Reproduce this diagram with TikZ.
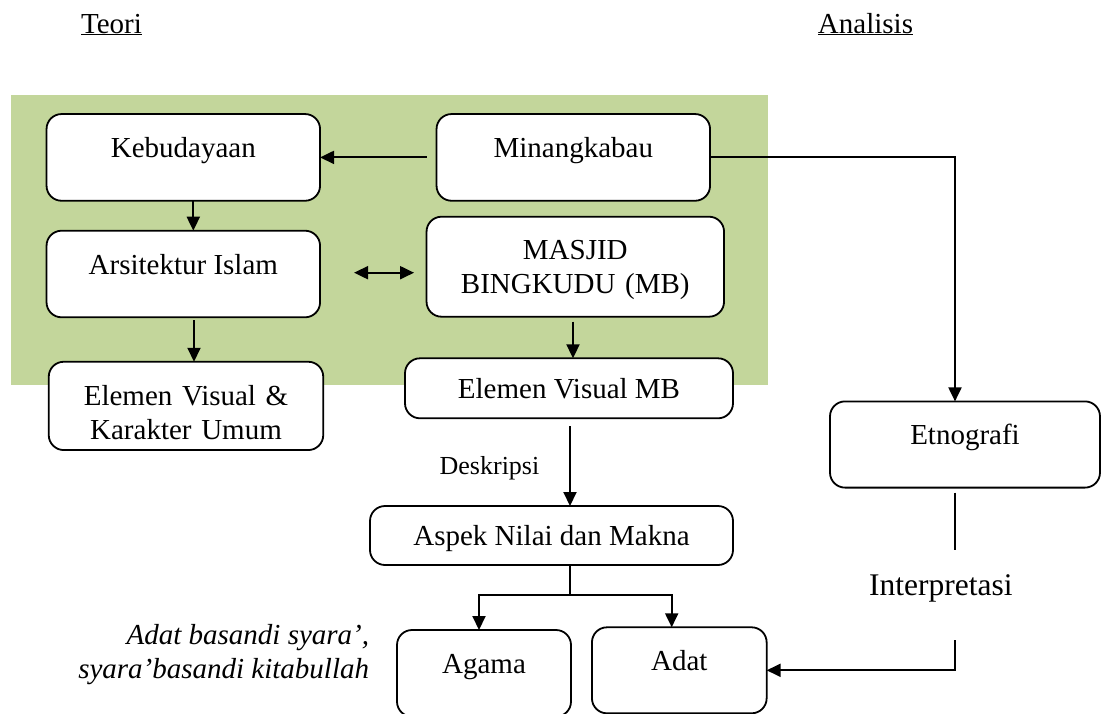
\documentclass[tikz,border=0pt]{standalone}
\usepackage{fontspec}
\setmainfont{Liberation Serif}
\usetikzlibrary{arrows.meta}
\definecolor{bggreen}{HTML}{C3D69B}

\begin{document}
\begin{tikzpicture}[x=1pt,y=-1pt,font=\fontsize{29}{34}\selectfont,
  box/.style={draw,line width=1.8pt,rounded corners=15pt,inner sep=0pt,outer sep=0pt,fill=white},
  midline/.style={text height=0pt,text depth=0pt},
  capmid/.style={text height=20pt,text depth=0pt},
  link/.style={line width=2pt},
  arr/.style={line width=2pt,-{Triangle[length=14pt,width=13pt]}},
  dblarr/.style={line width=2pt,{Triangle[length=14pt,width=13pt]}-{Triangle[length=14pt,width=13pt]}}]
\useasboundingbox (0,0) rectangle (1101,713);
\clip (0,0) rectangle (1101,713);
\fill[bggreen] (11,95) rectangle (768,385);

\node[anchor=base] (teori) at (111.5,33) {\underline{Teori}};
\node[anchor=base] (analisis) at (865.5,33) {\underline{Analisis}};

\node[box,midline,minimum width=273.5pt,minimum height=86.7pt] (budaya) at (183.3,157.4) {Kebudayaan};
\node[box,midline,minimum width=273.5pt,minimum height=86.7pt] (minang) at (573.3,157.4) {Minangkabau};
\node[box,midline,minimum width=273.5pt,minimum height=86.6pt] (islam) at (183.3,274) {Arsitektur Islam};
\node[box,text width=270pt,align=center,text height=0pt,text depth=14.8pt,minimum width=297.5pt,minimum height=100pt] (masjid) at (575.3,266.7) {MASJID\\BINGKUDU (MB)};
\node[box,text width=260pt,align=center,text height=0pt,text depth=1.8pt,minimum width=274.5pt,minimum height=88.3pt] (elemen) at (186,405.9) {Elemen Visual \&\\Karakter Umum};
\node[box,capmid,minimum width=328pt,minimum height=60pt] (elemenmb) at (569,388.3) {Elemen Visual MB};
\node[box,capmid,minimum width=363pt,minimum height=59pt] (aspek) at (551.5,535.5) {Aspek Nilai dan Makna};
\node[box,midline,minimum width=270pt,minimum height=86.2pt] (etno) at (965,444.5) {Etnografi};
\node[box,midline,minimum width=174pt,minimum height=86.6pt] (agama) at (484,673.3) {Agama};
\node[box,midline,minimum width=174.7pt,minimum height=86pt] (adat) at (679.3,670.3) {Adat};

\node[anchor=base,font=\fontsize{26}{30}\selectfont] (deskripsi) at (489.5,474) {Deskripsi};
\node[font=\fontsize{31.5}{36}\selectfont,text height=0pt,text depth=0pt,inner ysep=45pt] (interp) at (940.8,595) {Interpretasi};
\node[anchor=east,align=right,inner sep=0pt,font=\itshape\fontsize{29}{34}\selectfont] (pepatah) at (369.3,655) {Adat basandi syara’,\\syara’basandi kitabullah};

\draw[arr] ([xshift=-10pt]minang.west) -- (budaya.east);
\draw[arr] ([xshift=10pt]budaya.south) -- ([xshift=10pt]islam.north);
\draw[arr] ([xshift=10.7pt,yshift=-3pt]islam.south) -- ([xshift=8pt]elemen.north);
\draw[dblarr] ([xshift=34pt,yshift=1.3pt]islam.east) -- ([xshift=-12.5pt,yshift=-6pt]masjid.west);
\draw[arr] ([xshift=-2.3pt,yshift=-5pt]masjid.south) -- ([xshift=4pt]elemenmb.north);
\draw[arr] ([xshift=1pt,yshift=-7.7pt]elemenmb.south) -- ([xshift=18.5pt]aspek.north);

\coordinate (cabang) at (570,595);
\draw[link] (aspek.south -| cabang) -- (cabang);
\draw[arr] (cabang) -| ([xshift=-5pt]agama.north);
\draw[arr] (cabang) -| ([xshift=-7.6pt]adat.north);

\draw[arr] (minang.east) -| ([xshift=-10pt]etno.north);
\coordinate (etnokaki) at ([xshift=-10pt,yshift=-5pt]etno.south);
\draw[link] (etnokaki) -- (etnokaki |- interp.north);
\draw[arr] (etnokaki |- interp.south) |- (adat.east);
\end{tikzpicture}
\end{document}
